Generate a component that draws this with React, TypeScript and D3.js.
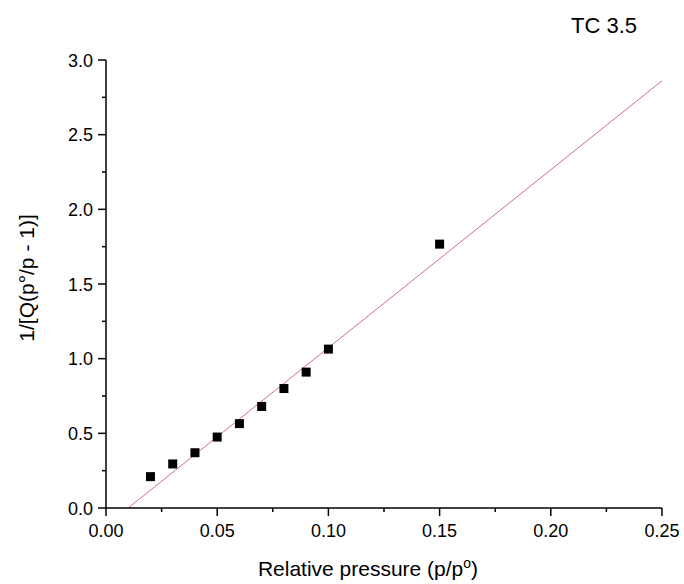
import React from "react";
import * as d3 from "d3";

const pressure = [0.02, 0.03, 0.04, 0.05, 0.06, 0.07, 0.08, 0.09, 0.10, 0.15];
const inverseQ = [0.21, 0.295, 0.37, 0.475, 0.565, 0.68, 0.80, 0.91, 1.064, 1.767];
const xTicks = [0, 0.05, 0.1, 0.15, 0.2, 0.25];
const yTicks = [0, 0.5, 1.0, 1.5, 2.0, 2.5, 3.0];
const xMinor = [0.025, 0.075, 0.125, 0.175, 0.225];
const yMinor = [0.25, 0.75, 1.25, 1.75, 2.25, 2.75];
const fitSlope = 11.92;
const fitIntercept = -0.119;
const fitRange = [0.01, 0.25];
const title = "TC 3.5";

const W = 684, H = 584;
const left = 106, right = 662, top = 60, bottom = 508;
const font = "'Liberation Sans', Arial, sans-serif";

export default function App() {
  const x = d3.scaleLinear().domain([0, 0.25]).range([left, right]);
  const y = d3.scaleLinear().domain([0, 3]).range([bottom, top]);
  const fitPts: [number, number][] = fitRange.map((p) => [p, fitSlope * p + fitIntercept]);
  const line = d3.line<[number, number]>().x((d) => x(d[0])).y((d) => y(d[1]));
  const sq = 9;
  return (
    <svg width={W} height={H} style={{ position: "absolute", left: 0, top: 0, background: "#fff" }}>
      <defs>
        <clipPath id="plot">
          <rect x={left} y={top} width={right - left} height={bottom - top} />
        </clipPath>
      </defs>
      <text x={604} y={33} fontFamily={font} fontSize={22} textAnchor="middle" fill="#000">{title}</text>
      <path d={line(fitPts) || ""} stroke="#d06070" strokeWidth={0.9} fill="none" clipPath="url(#plot)" />
      {pressure.map((p, i) => (
        <rect key={i} x={x(p) - sq / 2} y={y(inverseQ[i]) - sq / 2} width={sq} height={sq} fill="#000" />
      ))}
      <line x1={left} x2={right} y1={bottom} y2={bottom} stroke="#000" strokeWidth={1.5} />
      <line x1={left} x2={left} y1={top} y2={bottom} stroke="#000" strokeWidth={1.5} />
      {xTicks.map((t) => (
        <g key={"x" + t}>
          <line x1={x(t)} x2={x(t)} y1={bottom} y2={bottom + 8} stroke="#000" strokeWidth={1.5} />
          <text x={x(t)} y={537} fontFamily={font} fontSize={18} textAnchor="middle" fill="#000">{t.toFixed(2)}</text>
        </g>
      ))}
      {xMinor.map((t) => (
        <line key={"xm" + t} x1={x(t)} x2={x(t)} y1={bottom} y2={bottom + 4} stroke="#000" strokeWidth={1.5} />
      ))}
      {yTicks.map((t) => (
        <g key={"y" + t}>
          <line x1={left - 8} x2={left} y1={y(t)} y2={y(t)} stroke="#000" strokeWidth={1.5} />
          <text x={93} y={y(t) + 6.5} fontFamily={font} fontSize={18} textAnchor="end" fill="#000">{t.toFixed(1)}</text>
        </g>
      ))}
      {yMinor.map((t) => (
        <line key={"ym" + t} x1={left - 4} x2={left} y1={y(t)} y2={y(t)} stroke="#000" strokeWidth={1.5} />
      ))}
      <text x={368} y={576} fontFamily={font} fontSize={21} textAnchor="middle" fill="#000">
        Relative pressure (p/p<tspan dy={-8} fontSize={14}>o</tspan><tspan dy={8}>)</tspan>
      </text>
      <text transform={`translate(34,278) rotate(-90)`} fontFamily={font} fontSize={21} textAnchor="middle" fill="#000">
        1/[Q(p°/p - 1)]
      </text>
    </svg>
  );
}
